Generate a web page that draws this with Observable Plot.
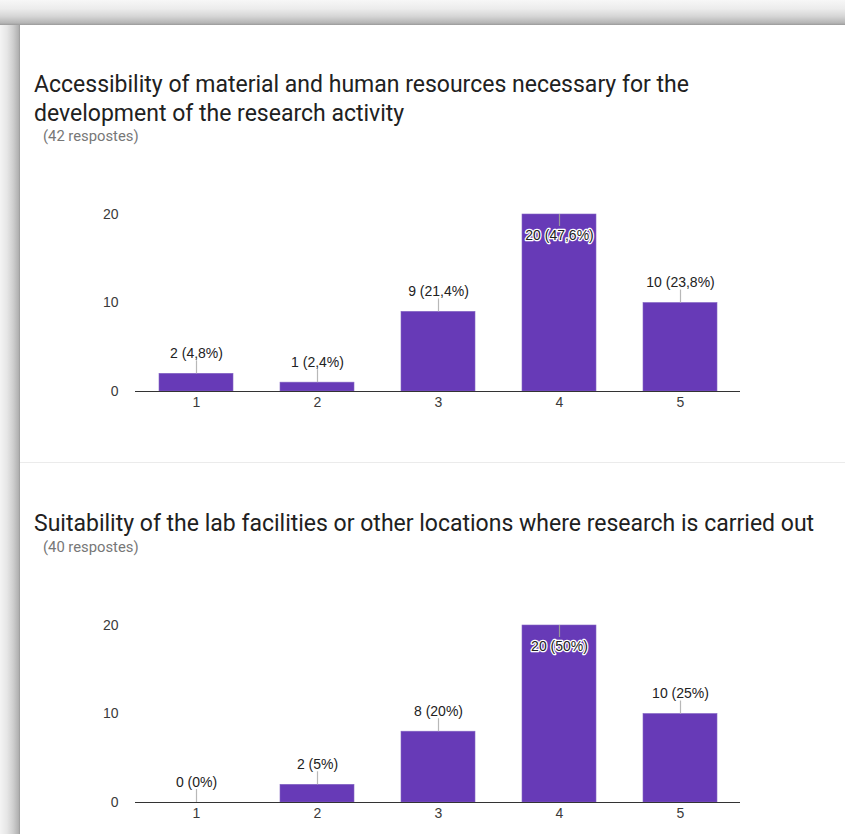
<!DOCTYPE html>
<html><head><meta charset="utf-8">
<script src="https://cdn.jsdelivr.net/npm/d3@7"></script>
<script src="https://cdn.jsdelivr.net/npm/@observablehq/plot@0.6"></script>
<style>
body{margin:0;width:845px;height:834px;overflow:hidden;background:#fff;position:relative;font-family:Roboto,sans-serif}
.abs{position:absolute}
#shadowTop{left:0;top:0;width:845px;height:25px;background:linear-gradient(to bottom,#f7f7f7 0%,#ececec 35%,#d6d6d6 65%,#b5b5b5 92%,#9a9a9a 100%)}
#shadowLeft{left:0;top:0;width:20px;height:834px;background:linear-gradient(to right,#f4f4f4 0%,#e6e6e6 35%,#cfcfcf 65%,#b2b2b2 92%,#9a9a9a 100%)}
#divider{left:20px;top:462px;width:825px;height:1px;background:#ebebeb}
.title{left:34px;font-size:23px;line-height:29px;color:#212121;white-space:nowrap}
.sub{left:43px;font-size:14.8px;line-height:17px;color:#777;white-space:nowrap}
.chart{left:20px}
</style></head><body>
<div id="shadowLeft" class="abs"></div>
<div id="shadowTop" class="abs"></div>
<div id="divider" class="abs"></div>
<div id="t1" class="abs title" style="top:70px"></div>
<div id="s1" class="abs sub" style="top:128px"></div>
<div id="c1" class="abs chart" style="top:190px"></div>
<div id="t2" class="abs title" style="top:509px"></div>
<div id="s2" class="abs sub" style="top:539px"></div>
<div id="c2" class="abs chart" style="top:601px"></div>
<script>
const categories = ["1", "2", "3", "4", "5"];
const counts1 = [2, 1, 9, 20, 10];
const pct1 = ["4,8%", "2,4%", "21,4%", "47,6%", "23,8%"];
const counts2 = [0, 2, 8, 20, 10];
const pct2 = ["0%", "5%", "20%", "50%", "25%"];
const yTicks = [0, 10, 20];
const title1 = ["Accessibility of material and human resources necessary for the", "development of the research activity"];
const title2 = ["Suitability of the lab facilities or other locations where research is carried out"];
const sub1 = "(42 respostes)";
const sub2 = "(40 respostes)";

document.getElementById("t1").innerHTML = title1.join("<br>");
document.getElementById("t2").innerHTML = title2.join("<br>");
document.getElementById("s1").textContent = sub1;
document.getElementById("s2").textContent = sub2;

function chart(counts, pcts, height, marginBottom) {
  const data = categories.map((c, i) => ({cat: c, n: counts[i], label: `${counts[i]} (${pcts[i]})`}));
  const isInside = d => d.n >= 18;
  const above = data.filter(d => !isInside(d));
  const inside = data.filter(isInside);
  return Plot.plot({
    width: 825, height, marginLeft: 115, marginRight: 105, marginTop: 24, marginBottom,
    style: {background: "transparent", fontFamily: "'Liberation Sans', Arial, sans-serif", fontSize: "14px", color: "#3a3a3a"},
    x: {domain: categories, paddingInner: 0.39, paddingOuter: 0.195, label: null, tickSize: 0, tickPadding: 6},
    y: {domain: [0, 20], ticks: yTicks, label: null, tickSize: 0, tickPadding: 17},
    marks: [
      Plot.barY(data, {x: "cat", y: "n", fill: "#673ab7", stroke: "#8466c4", strokeWidth: 0.6}),
      Plot.ruleY([0], {stroke: "#333", strokeWidth: 1}),
      Plot.ruleX(above, {x: "cat", y1: "n", y2: "n", insetTop: -13, stroke: "#b8b8b8", strokeWidth: 1.2}),
      Plot.ruleX(inside, {x: "cat", y1: "n", y2: "n", insetBottom: -12, stroke: "#999", strokeWidth: 1.2}),
      Plot.text(above, {x: "cat", y: "n", text: "label", dy: -20, fill: "#222"}),
      Plot.text(inside, {x: "cat", y: "n", text: "label", dy: 21, fill: "#222", stroke: "#fff", strokeWidth: 2.5})
    ]
  });
}

document.getElementById("c1").append(chart(counts1, pct1, 230, 29));
document.getElementById("c2").append(chart(counts2, pct2, 233, 32));
</script>
</body></html>
